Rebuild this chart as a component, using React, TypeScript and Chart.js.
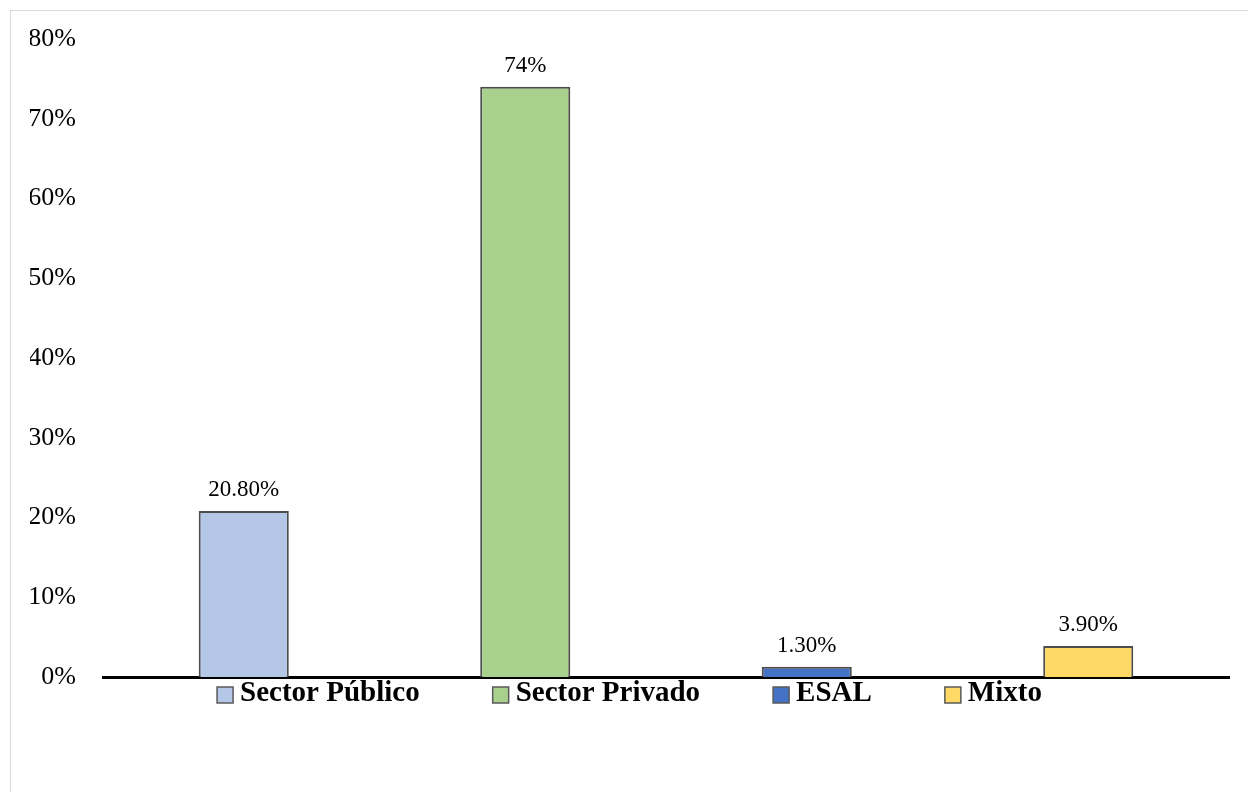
import React, { useEffect, useRef } from "react";
import { Chart, registerables } from "chart.js";

Chart.register(...registerables);

const categories = ["Sector Público", "Sector Privado", "ESAL", "Mixto"];
const values = [0.208, 0.74, 0.013, 0.039];
const valueLabels = ["20.80%", "74%", "1.30%", "3.90%"];
const colors = ["#B4C7E7", "#A9D18E", "#4472C4", "#FFD966"];
const yMin = 0;
const yMax = 0.8;
const yStep = 0.1;

const FONT = '"Liberation Serif", "Times New Roman", serif';

const dataLabelPlugin = {
  id: "dataLabels",
  afterDatasetsDraw(chart: any) {
    const ctx = chart.ctx;
    const meta = chart.getDatasetMeta(0);
    ctx.save();
    ctx.font = `23px ${FONT}`;
    ctx.fillStyle = "#000";
    ctx.textAlign = "center";
    ctx.textBaseline = "alphabetic";
    meta.data.forEach((bar: any, i: number) => {
      ctx.fillText(valueLabels[i], bar.x, bar.y - 15);
    });
    ctx.restore();
  },
};

const legendPlugin = {
  id: "bottomLegend",
  afterDraw(chart: any) {
    const ctx = chart.ctx;
    ctx.save();
    ctx.font = `bold 29px ${FONT}`;
    const box = 16;
    const gap = 7;
    const pad = 73;
    const widths = categories.map((c) => ctx.measureText(c).width);
    const total =
      widths.reduce((a, w) => a + box + gap + w, 0) + pad * (categories.length - 1);
    let x = chart.width / 2 - total / 2;
    const y = chart.chartArea.bottom + 18;
    categories.forEach((c, i) => {
      ctx.fillStyle = colors[i];
      ctx.fillRect(x, y - box / 2, box, box);
      ctx.strokeStyle = "#595959";
      ctx.lineWidth = 1.5;
      ctx.strokeRect(x, y - box / 2, box, box);
      ctx.fillStyle = "#000";
      ctx.textAlign = "left";
      ctx.textBaseline = "middle";
      ctx.fillText(c, x + box + gap, y - 1);
      x += box + gap + widths[i] + pad;
    });
    ctx.restore();
  },
};

export default function App() {
  const canvasRef = useRef<HTMLCanvasElement | null>(null);

  useEffect(() => {
    if (!canvasRef.current) return;
    const chart = new Chart(canvasRef.current, {
      type: "bar",
      data: {
        labels: categories,
        datasets: [
          {
            data: values,
            backgroundColor: colors,
            borderColor: "#4d4d4d",
            borderWidth: 2,
            barPercentage: 0.32,
            categoryPercentage: 1,
          },
        ],
      },
      options: {
        responsive: false,
        animation: false,
        layout: { padding: { left: 19, right: 19, top: 28, bottom: 114 } },
        plugins: {
          legend: { display: false },
          tooltip: { enabled: false },
        },
        scales: {
          x: {
            grid: { display: false, drawTicks: false },
            ticks: { display: false },
            border: { display: true, color: "#000", width: 3 },
          },
          y: {
            min: yMin,
            max: yMax,
            grid: { display: false, drawTicks: false },
            border: { display: false },
            afterFit: (scale: any) => {
              scale.width = 73;
              scale.paddingTop = 0;
              scale.paddingBottom = 0;
            },
            ticks: {
              stepSize: yStep,
              padding: 27,
              color: "#000",
              font: { family: FONT, size: 26 },
              callback: (v: any) => `${Math.round(Number(v) * 100)}%`,
            },
          },
        },
      },
      plugins: [dataLabelPlugin, legendPlugin],
    });
    return () => chart.destroy();
  }, []);

  return (
    <div
      style={{
        position: "fixed",
        left: 10,
        top: 10,
        width: 1260,
        height: 800,
        border: "1.5px solid #d9d9d9",
        background: "#fff",
      }}
    >
      <canvas
        ref={canvasRef}
        width={1237}
        height={780}
        style={{ position: "absolute", left: 0, top: 0 }}
      />
    </div>
  );
}
